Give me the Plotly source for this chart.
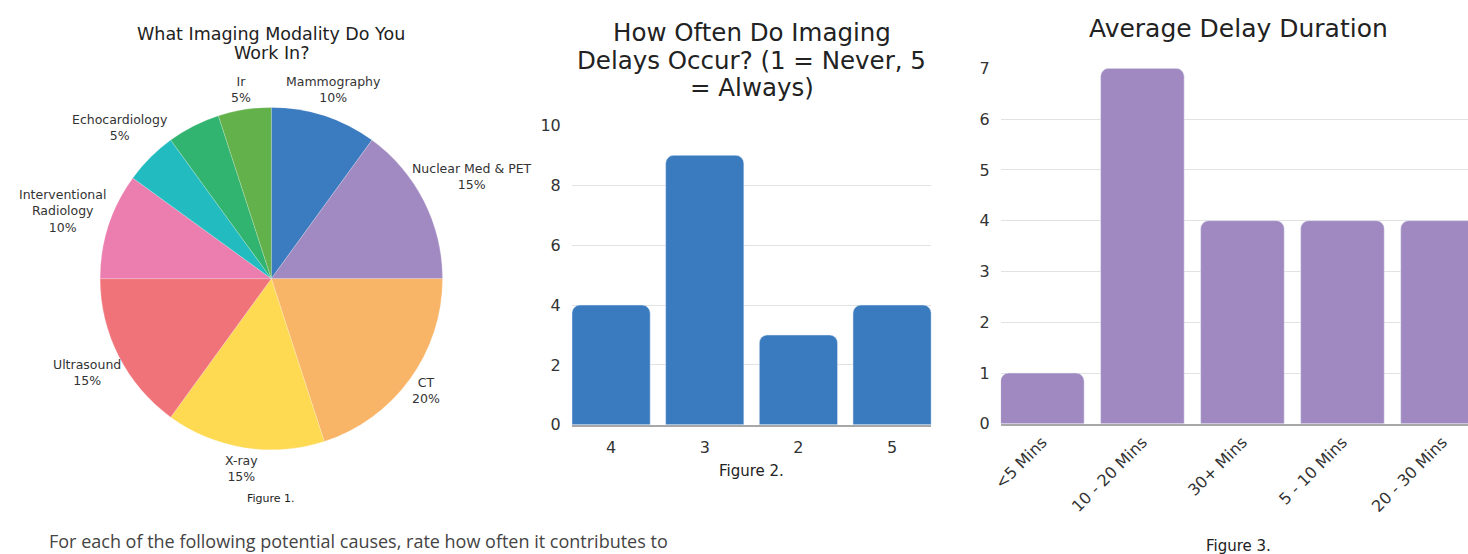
import math
import plotly.graph_objects as go

# Figure 1: imaging modality shares (clockwise from 12 o'clock)
modality_labels = ["Mammography", "Nuclear Med & PET", "CT", "X-ray", "Ultrasound",
                   "Interventional<br>Radiology", "Echocardiology", "Other", "Ir"]
modality_counts = [2, 3, 4, 3, 3, 2, 1, 1, 1]
modality_colors = ["#3b7bbf", "#a189c1", "#f9b567", "#fed952", "#f0737a",
                   "#eb7eae", "#22bbc0", "#31b46f", "#63b14b"]
modality_shown = [True, True, True, True, True, True, True, False, True]

# Figure 2: frequency ratings
freq_categories = ["4", "3", "2", "5"]
freq_counts = [4, 9, 3, 4]

# Figure 3: delay durations
delay_categories = ["<5 Mins", "10 - 20 Mins", "30+ Mins", "5 - 10 Mins", "20 - 30 Mins"]
delay_counts = [1, 7, 4, 4, 4]

FONT = "DejaVu Sans"

# layout is specified in view pixels (1468 x 554); the page adds an 8px body margin
# and the view is fitted to the padded page, so positions are converted back here
VIEW_W, VIEW_H = 1468, 554
PAGE_MARGIN = 8
X_NUDGE = 5
SX = VIEW_W / (VIEW_W + 2 * PAGE_MARGIN)
SY = VIEW_H / (VIEW_H + 2 * PAGE_MARGIN + 4)
FIG_W = round(VIEW_W / SX) - PAGE_MARGIN
FIG_H = round(VIEW_H / SY) - PAGE_MARGIN


def fx(px):
    """view x pixel -> paper x"""
    return min(1.0, ((px - X_NUDGE) / SX - PAGE_MARGIN) / FIG_W)


def fy(py):
    """view y pixel -> paper y"""
    return 1 - (py / SY - PAGE_MARGIN) / FIG_H


# pie placement in view pixels
PIE_CX, PIE_CY, PIE_R = 274, 277, 171
LABEL_SIZE = 12.5

fig = go.Figure()

fig.add_trace(go.Pie(
    labels=modality_labels,
    values=modality_counts,
    sort=False,
    direction="clockwise",
    rotation=0,
    marker=dict(colors=modality_colors, line=dict(color="rgba(255,255,255,0.4)", width=0.5)),
    textinfo="none",
    domain=dict(x=[fx(PIE_CX - PIE_R), fx(PIE_CX + PIE_R)],
                y=[fy(PIE_CY + PIE_R), fy(PIE_CY - PIE_R)]),
    showlegend=False,
    hoverinfo="label+percent",
))

fig.add_trace(go.Bar(
    x=freq_categories, y=freq_counts,
    marker=dict(color="#3a7bbf", cornerradius=8),
    xaxis="x", yaxis="y", showlegend=False,
))

fig.add_trace(go.Bar(
    x=delay_categories, y=delay_counts,
    marker=dict(color="#a088c0", cornerradius=8),
    xaxis="x2", yaxis="y2", showlegend=False,
))

axis_common = dict(showgrid=False, showline=True, linecolor="#a8a8a8", linewidth=1.5,
                   fixedrange=True)
yaxis_common = dict(showgrid=True, gridcolor="#e2e2e2", gridwidth=1.2, zeroline=False,
                    tickfont=dict(family=FONT, size=16, color="#333"), fixedrange=True)

fig.update_layout(
    width=FIG_W, height=FIG_H,
    margin=dict(l=0, r=0, t=0, b=0),
    paper_bgcolor="white", plot_bgcolor="white",
    font=dict(family=FONT, color="#333"),
    bargap=0.165,
    xaxis=dict(domain=[fx(573), fx(931)], range=[-0.42, 3.42], ticklabelstandoff=7,
               tickfont=dict(family=FONT, size=16, color="#333"), **axis_common),
    yaxis=dict(domain=[fy(423), fy(124)], range=[0, 10], dtick=2,
               ticklabelstandoff=10, **yaxis_common),
    xaxis2=dict(domain=[fx(1000), 1.0], range=[-0.416, 4.335], tickangle=-45,
                ticklabelstandoff=1, tickfont=dict(family=FONT, size=16, color="#333"),
                **axis_common),
    yaxis2=dict(domain=[fy(422), fy(67)], range=[0, 7], dtick=1,
                ticklabelstandoff=10, anchor="x2", **yaxis_common),
)
fig.update_layout(xaxis2=dict(anchor="y2"))

# titles (one annotation per line for tight line spacing) and figure captions
title_lines = [
    ("What Imaging Modality Do You", 274, 33, 17.5),
    ("Work In?", 274, 52, 17.5),
    ("How Often Do Imaging", 752, 31.5, 24.5),
    ("Delays Occur? (1 = Never, 5", 752, 59, 24.5),
    ("= Always)", 752, 86.5, 24.5),
    ("Average Delay Duration", 1237, 27.5, 25),
    ("Figure 1.", 274, 497, 11),
    ("Figure 2.", 752, 469, 15),
    ("Figure 3.", 1237, 544, 15),
]
annotations = []
for txt, px, py, size in title_lines:
    annotations.append(dict(
        text=txt, x=fx(px), y=fy(py), xref="paper", yref="paper", showarrow=False,
        xanchor="center", yanchor="middle",
        font=dict(family=FONT, size=size, color="#222"),
    ))

# slice labels placed just outside the rim at each slice's mid-angle
total = sum(modality_counts)
cum = 0
for lab, cnt, shown in zip(modality_labels, modality_counts, modality_shown):
    mid = (cum + cnt / 2) / total * 2 * math.pi
    cum += cnt
    if not shown:
        continue
    lines = lab.split("<br>") + [f"{round(100 * cnt / total)}%"]
    half_w = max(len(s) for s in lines) * LABEL_SIZE * 0.45 / 2
    half_h = len(lines) * LABEL_SIZE * 1.3 / 2
    sx, sy = math.sin(mid), -math.cos(mid)
    dist = PIE_R + 3 + half_w * abs(sx) + half_h * abs(sy)
    px = PIE_CX + dist * sx
    py = PIE_CY + dist * sy
    annotations.append(dict(
        text="<br>".join(lines), x=fx(px), y=fy(py), xref="paper", yref="paper",
        showarrow=False, xanchor="center", yanchor="middle", align="center",
        font=dict(family=FONT, size=LABEL_SIZE, color="#333"),
    ))

annotations.append(dict(
    text="For each of the following potential causes, rate how often it contributes to",
    x=fx(51), y=fy(539), xref="paper", yref="paper", showarrow=False,
    xanchor="left", yanchor="middle", font=dict(family="Open Sans", size=18, color="#444"),
))
fig.update_layout(annotations=annotations)

fig.write_html("out.html")
